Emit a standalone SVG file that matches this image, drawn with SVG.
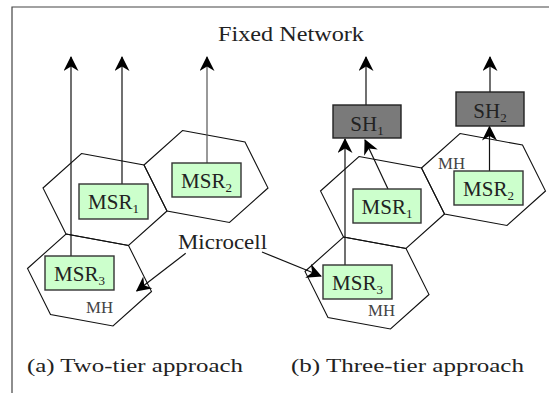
<svg xmlns="http://www.w3.org/2000/svg" xmlns:xlink="http://www.w3.org/1999/xlink" width="549" height="393" viewBox="0 0 549 393">
  <style>
    .frame { stroke: #444; stroke-width: 1.2; fill: none; }
    .cell { fill: none; stroke: #111; stroke-width: 1.1; }
    .link { fill: none; stroke: #111; stroke-width: 1.2; marker-end: url(#head); }
    .grey { stroke: #555; }
    .msr { fill: #ccffcc; stroke: #333; stroke-width: 1.4; }
    .sh { fill: #7a7a7a; stroke: #222; stroke-width: 1.4; }
    text { font-family: "Liberation Serif", "Times New Roman", serif; fill: #222; }
    .lbl { font-family: "Liberation Serif", "Times New Roman", serif; font-size: 21px; text-anchor: middle; }
    .sub { font-size: 13px; }
    .mh { font-size: 16px; fill: #444; }
    .big { font-size: 20px; }
  </style>
  <defs>
    <!-- hexagonal microcell outline, anchored at its upper-left corner -->
    <path id="hex" d="M0,0 L62.5,11.5 L85.5,57.5 L47,92 L-15.5,80.5 L-38.5,34.5 Z"/>
    <marker id="head" markerUnits="userSpaceOnUse" viewBox="0 0 15 15" refX="14" refY="7.5" markerWidth="15" markerHeight="15" orient="auto">
      <path d="M0,0 L15,7.5 L0,15 L4.5,7.5 Z" fill="#000"/>
    </marker>
  </defs>

  <!-- outer frame (top and left edges) -->
  <path class="frame" d="M12,393 V7 H549"/>

  <text id="fixed-network" x="218" y="41" font-size="21" textLength="146" lengthAdjust="spacingAndGlyphs">Fixed Network</text>

  <!-- (a) two-tier cells -->
  <g id="cells-a">
    <use xlink:href="#hex" class="cell" x="81.5" y="153.5"/>
    <use xlink:href="#hex" class="cell" x="182.5" y="130.5"/>
    <use xlink:href="#hex" class="cell" x="66" y="234"/>
  </g>
  <!-- (b) three-tier cells -->
  <g id="cells-b">
    <use xlink:href="#hex" class="cell" x="359" y="156.5"/>
    <use xlink:href="#hex" class="cell" x="460" y="133.5"/>
    <use xlink:href="#hex" class="cell" x="343.5" y="237"/>
  </g>

  <g id="connectors">
    <path class="link" d="M71,256 V57"/>
    <path class="link" d="M122,184 V57"/>
    <path class="link grey" d="M207,163 V57"/>
    <path class="link" d="M366,105 V57"/>
    <path class="link" d="M490,92 V57"/>
    <path class="link" d="M345,265 V139"/>
    <path class="link" d="M388,189 L365,140"/>
    <path class="link" d="M489.5,171 V126.5"/>
    <path class="link" d="M185.7,253.3 L136.7,291"/>
    <path class="link" d="M262,252 L321,276"/>
  </g>

  <g id="msr1-a">
    <rect class="msr" x="79" y="184" width="69" height="35"/>
    <text class="lbl" x="113.5" y="209">MSR<tspan class="sub" dy="4">1</tspan></text>
  </g>
  <g id="msr2-a">
    <rect class="msr" x="172" y="163" width="69" height="34"/>
    <text class="lbl" x="206.5" y="188">MSR<tspan class="sub" dy="4">2</tspan></text>
  </g>
  <g id="msr3-a">
    <rect class="msr" x="45" y="256" width="69" height="34"/>
    <text class="lbl" x="79.5" y="281">MSR<tspan class="sub" dy="4">3</tspan></text>
  </g>

  <g id="sh1">
    <rect class="sh" x="333" y="105" width="68" height="33"/>
    <text class="lbl" x="367" y="130.5">SH<tspan class="sub" dy="4">1</tspan></text>
  </g>
  <g id="sh2">
    <rect class="sh" x="456" y="92" width="68" height="34"/>
    <text class="lbl" x="490" y="118">SH<tspan class="sub" dy="4">2</tspan></text>
  </g>
  <g id="msr1-b">
    <rect class="msr" x="353" y="189" width="68" height="34"/>
    <text class="lbl" x="387" y="214">MSR<tspan class="sub" dy="4">1</tspan></text>
  </g>
  <g id="msr2-b">
    <rect class="msr" x="454" y="171" width="69" height="34"/>
    <text class="lbl" x="488.5" y="196">MSR<tspan class="sub" dy="4">2</tspan></text>
  </g>
  <g id="msr3-b">
    <rect class="msr" x="323" y="265" width="69" height="34"/>
    <text class="lbl" x="357.5" y="290">MSR<tspan class="sub" dy="4">3</tspan></text>
  </g>

  <g id="labels">
    <text class="mh" x="86" y="313" textLength="27" lengthAdjust="spacingAndGlyphs">MH</text>
    <text class="mh" x="368" y="316" textLength="27" lengthAdjust="spacingAndGlyphs">MH</text>
    <text class="mh" x="438" y="169" textLength="27" lengthAdjust="spacingAndGlyphs">MH</text>
    <text class="big" x="178" y="249" textLength="89" lengthAdjust="spacingAndGlyphs">Microcell</text>
    <text x="27" y="372" font-size="19" textLength="216" lengthAdjust="spacingAndGlyphs">(a) Two-tier approach</text>
    <text x="291" y="372" font-size="19" textLength="233" lengthAdjust="spacingAndGlyphs">(b) Three-tier approach</text>
  </g>
</svg>
